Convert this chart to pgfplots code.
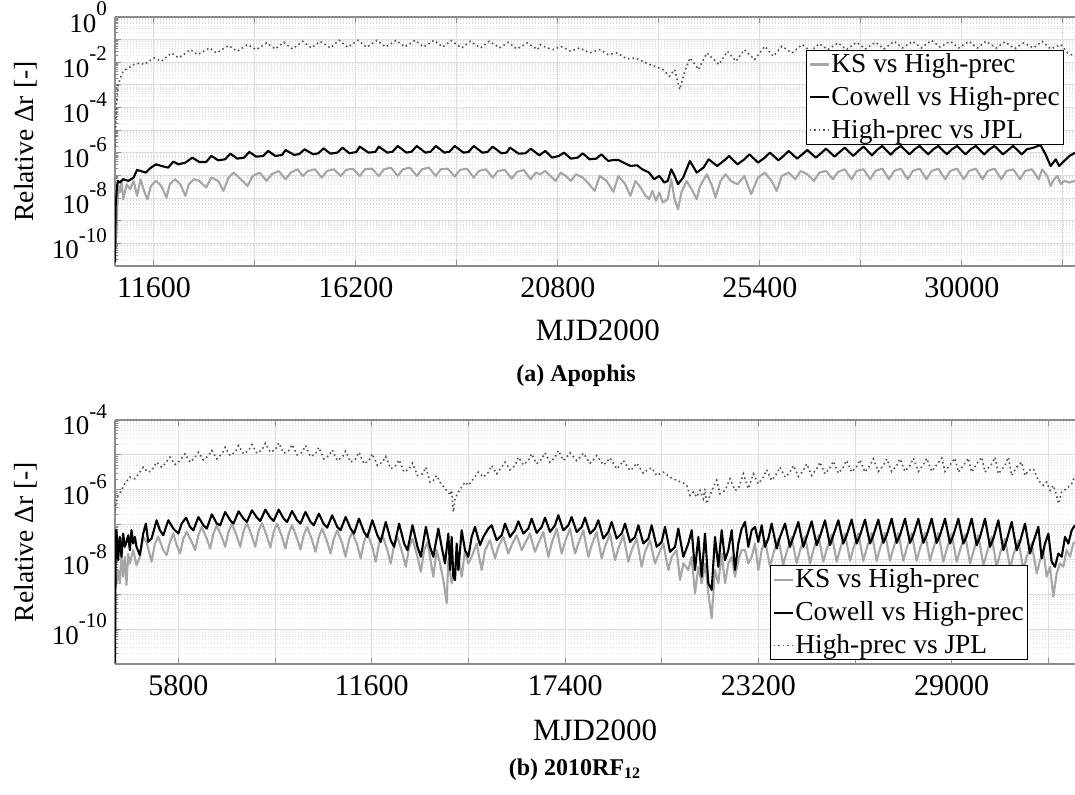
\documentclass[border=0pt]{standalone}
\usepackage{fontspec}
\setmainfont{Liberation Serif}
\usepackage{pgfplots}
\pgfplotsset{compat=1.18}
\definecolor{ksgray}{RGB}{166,166,166}
\definecolor{jplgray}{RGB}{85,85,85}
\definecolor{gridgray}{RGB}{222,222,222}
\definecolor{axgray}{RGB}{140,140,140}
\newcommand{\tp}[1]{10\raisebox{8.2pt}{\fontsize{10.5}{10.5}\selectfont #1}}
\tikzset{
  ksline/.style={draw=ksgray, line width=1.05pt, line join=round},
  cwline/.style={draw=black, line width=1.05pt, line join=round},
  jplline/.style={draw=jplgray, line width=0.8pt, dash pattern=on 0.8pt off 1.5pt},
}
\begin{document}
\begin{tikzpicture}
%%%%%%%%%%%%%%%%%%%%%%%%%%%%%%%%%%%%%%%%% (a) Apophis
\begin{axis}[at={(0,0)}, anchor=north west,
  scale only axis, width=480pt, height=124.5pt,
  ymode=log, scaled x ticks=false,
  axis x line*=box, axis y line*=left,
  axis line style={draw=axgray, line width=0.6pt},
  tick style={draw=axgray, line width=0.5pt},
  major tick length=3pt, minor tick length=1.6pt,
  grid=both,
  major grid style={draw=gridgray, line width=0.5pt},
  minor grid style={draw=gridgray, line width=0.5pt, dash pattern=on 0.6pt off 0.9pt},
  xticklabel style={font=\fontsize{15}{16}\selectfont, yshift=-2pt},
  yticklabel style={font=\fontsize{13.5}{14}\selectfont, xshift=-0.5pt},
  xlabel style={font=\fontsize{15.5}{16}\selectfont},
  ylabel style={font=\fontsize{13.8}{14}\selectfont},
  legend cell align=left,
  legend style={font=\fontsize{13.7}{14}\selectfont, draw=black, line width=0.5pt,
    inner xsep=1pt, inner ysep=0.6pt, nodes={inner sep=0.9pt}, row sep=3.6pt,
    at={(axis description cs:0.9885,0.8675)}, anchor=north east},
  legend image code/.code={\draw[#1] (0pt,0pt) -- (9.5pt,0pt);},
  xmin=10712, xmax=32580, ymin=1e-11, ymax=1,
  xtick={11600,13900,16200,18500,20800,23100,25400,27700,30000,32300},
  xticklabels={11600,{},16200,{},20800,{},25400,{},30000,{}},
  ytick={1e-11,1e-10,1e-9,1e-8,1e-7,1e-6,1e-5,1e-4,1e-3,1e-2,1e-1,1},
  yticklabels={{},\tp{-10},{},\tp{-8},{},\tp{-6},{},\tp{-4},{},\tp{-2},{},\tp{0}},
  minor ytick={2e-11,3e-11,4e-11,5e-11,6e-11,7e-11,8e-11,9e-11,
    2e-10,3e-10,4e-10,5e-10,6e-10,7e-10,8e-10,9e-10,
    2e-9,3e-9,4e-9,5e-9,6e-9,7e-9,8e-9,9e-9,
    2e-8,3e-8,4e-8,5e-8,6e-8,7e-8,8e-8,9e-8,
    2e-7,3e-7,4e-7,5e-7,6e-7,7e-7,8e-7,9e-7,
    2e-6,3e-6,4e-6,5e-6,6e-6,7e-6,8e-6,9e-6,
    2e-5,3e-5,4e-5,5e-5,6e-5,7e-5,8e-5,9e-5,
    2e-4,3e-4,4e-4,5e-4,6e-4,7e-4,8e-4,9e-4,
    2e-3,3e-3,4e-3,5e-3,6e-3,7e-3,8e-3,9e-3,
    2e-2,3e-2,4e-2,5e-2,6e-2,7e-2,8e-2,9e-2,
    2e-1,3e-1,4e-1,5e-1,6e-1,7e-1,8e-1,9e-1},
  xlabel={MJD2000},
  xlabel style={at={(axis description cs:0.503,-0.2972)}, anchor=base},
  ylabel={Relative Δr [-]},
  ylabel style={at={(axis description cs:-0.0927,0.5)}, anchor=center},
]
\addplot[ksline] coordinates {
(10727,5.61e-11) (10759,1.65e-9) (10783,3.46e-8) (10822,1.76e-8) (10861,5.74e-8) (10900,8.94e-9)
(10979,4.09e-8) (11058,2.47e-8) (11136,5.74e-8) (11215,1.25e-8) (11294,6.81e-8) (11372,2.08e-8)
(11451,8.94e-9) (11530,3.46e-8) (11648,5.74e-8) (11766,3.46e-8) (11884,1.06e-8) (11962,4.09e-8)
(12080,6.81e-8) (12198,4.09e-8) (12316,1.25e-8) (12395,4.09e-8) (12513,6.81e-8) (12631,5.74e-8)
(12788,2.92e-8) (12906,8.05e-8) (13063,5.74e-8) (13181,2.08e-8) (13299,8.05e-8) (13417,1.34e-7)
(13575,6.81e-8) (13732,3.46e-8) (13850,9.53e-8) (14007,1.34e-7) (14164,5.74e-8) (14282,1.13e-7)
(14440,1.58e-7) (14597,6.81e-8) (14715,1.34e-7) (14872,1.87e-7) (14990,9.53e-8) (15108,1.58e-7)
(15266,1.87e-7) (15423,8.05e-8) (15541,1.58e-7) (15698,1.87e-7) (15855,9.53e-8) (15973,1.75e-7)
(16131,2.00e-7) (16288,9.53e-8) (16406,1.87e-7) (16563,2.00e-7) (16721,9.53e-8) (16839,1.87e-7)
(16996,2.22e-7) (17153,9.53e-8) (17271,1.87e-7) (17429,2.22e-7) (17586,9.53e-8) (17704,1.87e-7)
(17861,2.22e-7) (18019,9.53e-8) (18136,1.87e-7) (18294,2.00e-7) (18451,8.91e-8) (18569,1.75e-7)
(18726,2.00e-7) (18884,8.05e-8) (19001,1.58e-7) (19159,1.87e-7) (19316,8.05e-8) (19434,1.58e-7)
(19591,1.75e-7) (19749,7.28e-8) (19867,1.43e-7) (20024,1.75e-7) (20181,6.81e-8) (20299,1.34e-7)
(20397,1.13e-7) (20513,1.58e-7) (20630,9.53e-8) (20746,5.74e-8) (20862,1.34e-7) (20978,9.53e-8)
(21095,5.74e-8) (21211,1.13e-7) (21366,8.05e-8) (21482,4.85e-8) (21637,2.08e-8) (21754,9.53e-8)
(21909,5.74e-8) (22064,1.88e-8) (22180,9.53e-8) (22335,4.09e-8) (22451,1.25e-8) (22568,5.74e-8)
(22684,2.92e-8) (22800,1.25e-8) (22878,8.94e-9) (22955,2.08e-8) (23033,7.55e-9) (23110,1.76e-8)
(23188,6.38e-9) (23304,8.94e-9) (23382,6.81e-8) (23459,8.94e-9) (23537,3.24e-9) (23614,1.76e-8)
(23730,5.74e-8) (23847,2.47e-8) (23963,8.94e-9) (24040,3.46e-8) (24195,1.13e-7) (24312,3.46e-8)
(24389,1.06e-8) (24506,5.74e-8) (24622,1.13e-7) (24738,5.74e-8) (24893,4.09e-8) (25048,9.53e-8)
(25203,1.49e-8) (25358,8.05e-8) (25513,1.34e-7) (25668,5.74e-8) (25785,2.08e-8) (25901,9.53e-8)
(26056,1.34e-7) (26211,6.81e-8) (26327,1.58e-7) (26482,1.13e-7) (26637,5.74e-8) (26754,1.34e-7)
(26909,1.58e-7) (27064,6.81e-8) (27180,1.43e-7) (27335,1.87e-7) (27490,6.81e-8) (27606,1.58e-7)
(27761,1.87e-7) (27916,6.81e-8) (28033,1.58e-7) (28188,2.00e-7) (28343,6.81e-8) (28459,1.58e-7)
(28614,2.00e-7) (28769,6.81e-8) (28886,1.58e-7) (29041,2.00e-7) (29196,6.81e-8) (29312,1.58e-7)
(29467,2.00e-7) (29622,6.81e-8) (29738,1.58e-7) (29893,2.00e-7) (30048,6.81e-8) (30165,1.58e-7)
(30320,2.00e-7) (30475,6.81e-8) (30591,1.58e-7) (30746,2.00e-7) (30901,6.81e-8) (31017,1.58e-7)
(31172,1.87e-7) (31327,6.81e-8) (31443,1.58e-7) (31598,1.87e-7) (31754,6.81e-8) (31831,1.87e-7)
(31948,9.53e-8) (32025,3.46e-8) (32103,6.81e-8) (32180,9.53e-8) (32258,4.09e-8) (32335,5.74e-8)
(32451,4.85e-8) (32580,5.74e-8)
};
\addlegendentry{KS vs High-prec}
\addplot[cwline] coordinates {
(10712,1.45e-11) (10727,4.55e-9) (10759,3.46e-8) (10783,5.74e-8) (10822,4.85e-8) (10900,6.81e-8)
(11018,5.74e-8) (11136,8.05e-8) (11215,1.75e-7) (11294,1.58e-7) (11412,1.34e-7) (11530,2.22e-7)
(11648,3.11e-7) (11766,2.63e-7) (11923,2.22e-7) (12041,4.08e-7) (12159,3.11e-7) (12316,3.69e-7)
(12473,6.12e-7) (12631,3.94e-7) (12788,3.94e-7) (12906,7.26e-7) (13063,4.67e-7) (13221,5.17e-7)
(13339,9.19e-7) (13496,5.53e-7) (13653,6.12e-7) (13771,1.09e-6) (13928,6.78e-7) (14086,7.26e-7)
(14204,1.21e-6) (14361,7.26e-7) (14518,8.03e-7) (14597,1.33e-6) (14794,8.03e-7) (14912,8.89e-7)
(15030,1.43e-6) (15226,8.59e-7) (15344,9.51e-7) (15462,1.58e-6) (15619,9.19e-7) (15777,1.02e-6)
(15895,1.69e-6) (16052,9.51e-7) (16209,1.09e-6) (16288,1.87e-6) (16485,1.02e-6) (16642,1.09e-6)
(16721,1.87e-6) (16917,1.02e-6) (17035,1.12e-6) (17153,2.00e-6) (17350,1.02e-6) (17468,1.12e-6)
(17586,2.00e-6) (17783,1.02e-6) (17901,1.12e-6) (18019,2.00e-6) (18215,1.02e-6) (18333,1.12e-6)
(18451,2.00e-6) (18648,1.02e-6) (18766,1.09e-6) (18884,2.00e-6) (19080,1.02e-6) (19198,1.09e-6)
(19316,1.87e-6) (19513,9.51e-7) (19631,1.02e-6) (19709,1.69e-6) (19906,9.19e-7) (20063,9.51e-7)
(20181,1.52e-6) (20378,7.76e-7)
(20513,1.21e-6) (20668,6.12e-7) (20823,7.26e-7) (20940,1.02e-6) (21095,5.53e-7) (21250,6.12e-7)
(21366,9.51e-7) (21521,5.17e-7) (21676,5.53e-7) (21792,8.59e-7) (21947,4.37e-7) (22064,4.83e-7)
(22180,4.83e-7) (22296,3.69e-7) (22451,2.63e-7) (22606,2.81e-7) (22723,1.87e-7) (22878,1.34e-7)
(22994,6.81e-8) (23110,9.53e-8) (23226,4.85e-8) (23304,5.74e-8) (23382,1.87e-7) (23459,9.53e-8)
(23537,4.09e-8) (23653,8.05e-8) (23808,4.37e-7) (23963,1.34e-7) (24118,2.22e-7) (24234,5.17e-7)
(24428,2.63e-7) (24622,5.17e-7) (24699,7.26e-7) (24893,3.11e-7) (25048,5.17e-7) (25164,8.59e-7)
(25358,3.69e-7) (25513,6.12e-7) (25630,1.02e-6) (25823,4.67e-7) (25940,7.26e-7) (26056,1.21e-6)
(26250,5.53e-7) (26366,8.59e-7) (26482,1.33e-6) (26676,6.12e-7) (26792,9.51e-7) (26909,1.52e-6)
(27103,6.78e-7) (27219,1.09e-6) (27335,1.69e-6) (27529,7.26e-7) (27645,1.21e-6) (27761,1.87e-6)
(27955,7.76e-7) (28071,1.33e-6) (28188,2.00e-6) (28382,8.30e-7) (28498,1.43e-6) (28614,2.00e-6)
(28808,8.59e-7) (28924,1.43e-6) (29041,2.00e-6) (29234,8.59e-7) (29351,1.43e-6) (29467,2.00e-6)
(29661,8.59e-7) (29777,1.43e-6) (29893,2.00e-6) (30087,8.59e-7) (30203,1.43e-6) (30320,2.00e-6)
(30513,8.59e-7) (30630,1.43e-6) (30746,2.00e-6) (30940,8.59e-7) (31056,1.33e-6) (31172,2.00e-6)
(31366,8.59e-7) (31482,1.43e-6) (31637,1.69e-6) (31792,2.21e-6) (31909,8.59e-7) (32025,2.63e-7)
(32141,5.17e-7) (32219,2.63e-7) (32335,4.37e-7) (32451,7.26e-7) (32580,1.0e-6)
};
\addlegendentry{Cowell vs High-prec}
\addplot[jplline] coordinates {
(10712,2e-6) (10719,3.94e-6) (10743,1.16e-4) (10783,8.79e-4) (10822,1.73e-3) (10900,4.03e-3)
(11018,5.65e-3) (11136,7.92e-3) (11294,9.38e-3) (11372,7.92e-3) (11608,1.56e-2) (11766,1.11e-2)
(12002,2.58e-2) (12159,1.56e-2) (12434,3.62e-2) (12591,2.18e-2) (12867,4.30e-2) (13024,2.58e-2)
(13299,5.44e-2) (13496,3.06e-2) (13732,6.03e-2) (13928,3.62e-2) (14164,7.13e-2) (14361,3.88e-2)
(14558,7.63e-2) (14754,3.88e-2) (14990,8.44e-2) (15187,4.30e-2) (15383,8.44e-2) (15619,4.30e-2)
(15816,9.34e-2) (16013,4.59e-2) (16249,9.34e-2) (16445,4.59e-2) (16681,9.34e-2) (16878,4.75e-2)
(17114,9.34e-2) (17311,4.75e-2) (17546,9.34e-2) (17743,4.75e-2) (17979,9.34e-2) (18176,4.75e-2)
(18372,9.04e-2) (18608,4.30e-2) (18805,8.44e-2) (19041,4.30e-2) (19237,8.44e-2) (19473,4.30e-2)
(19670,7.63e-2) (19867,3.88e-2) (20103,7.13e-2) (20339,3.62e-2)
(20397,6.03e-2) (20552,4.30e-2) (20707,3.62e-2) (20862,5.08e-2) (21095,3.06e-2) (21288,4.30e-2)
(21521,2.58e-2) (21754,3.62e-2) (21947,2.18e-2) (22141,2.58e-2) (22374,1.41e-2) (22568,1.56e-2)
(22800,9.38e-3) (22994,6.68e-3) (23188,4.77e-3) (23343,2.43e-3) (23459,4.77e-3) (23575,6.26e-4)
(23692,4.03e-3) (23808,1.56e-2) (23924,7.92e-3) (24002,4.77e-3) (24195,2.58e-2) (24312,1.56e-2)
(24467,7.92e-3) (24661,3.06e-2) (24855,1.11e-2) (25048,3.62e-2) (25281,1.32e-2) (25513,5.08e-2)
(25707,1.85e-2) (25901,5.08e-2) (26133,2.58e-2) (26366,6.03e-2) (26560,3.06e-2) (26754,6.67e-2)
(26947,3.62e-2) (27180,7.13e-2) (27374,3.62e-2) (27606,7.63e-2) (27800,3.88e-2) (28033,7.63e-2)
(28227,3.88e-2) (28459,8.44e-2) (28653,4.30e-2) (28886,8.44e-2) (29079,4.30e-2) (29312,9.34e-2)
(29506,4.75e-2) (29738,8.44e-2) (29932,4.30e-2) (30165,8.44e-2) (30358,4.30e-2) (30552,8.44e-2)
(30785,4.30e-2) (30979,7.89e-2) (31211,4.01e-2) (31405,7.13e-2) (31637,4.30e-2) (31831,8.44e-2)
(32025,3.88e-2) (32258,6.03e-2) (32413,2.58e-2) (32580,1.85e-2)
};
\addlegendentry{High-prec vs JPL}
\end{axis}
%%%%%%%%%%%%%%%%%%%%%%%%%%%%%%%%%%%%%%%%% (b) 2010RF12
\begin{axis}[at={(0,-201.5pt)}, anchor=north west,
  scale only axis, width=480pt, height=122pt,
  ymode=log, scaled x ticks=false,
  axis x line*=box, axis y line*=left,
  axis line style={draw=axgray, line width=0.6pt},
  tick style={draw=axgray, line width=0.5pt},
  major tick length=3pt, minor tick length=1.6pt,
  grid=both,
  major grid style={draw=gridgray, line width=0.5pt},
  minor grid style={draw=gridgray, line width=0.5pt, dash pattern=on 0.6pt off 0.9pt},
  xticklabel style={font=\fontsize{15}{16}\selectfont, yshift=-2pt},
  yticklabel style={font=\fontsize{13.5}{14}\selectfont, xshift=-0.5pt},
  xlabel style={font=\fontsize{15.5}{16}\selectfont},
  ylabel style={font=\fontsize{13.8}{14}\selectfont},
  legend cell align=left,
  legend style={font=\fontsize{13.7}{14}\selectfont, draw=black, line width=0.5pt,
    inner xsep=1pt, inner ysep=0.6pt, nodes={inner sep=0.9pt}, row sep=3.6pt,
    at={(axis description cs:0.951,0.0164)}, anchor=south east},
  legend image code/.code={\draw[#1] (0pt,0pt) -- (9.5pt,0pt);},
  xmin=3900, xmax=32700, ymin=1e-11, ymax=1e-4,
  xtick={5800,8700,11600,14500,17400,20300,23200,26100,29000,31900},
  xticklabels={5800,{},11600,{},17400,{},23200,{},29000,{}},
  ytick={1e-11,1e-10,1e-9,1e-8,1e-7,1e-6,1e-5,1e-4},
  yticklabels={{},\tp{-10},{},\tp{-8},{},\tp{-6},{},\tp{-4}},
  minor ytick={2e-11,3e-11,4e-11,5e-11,6e-11,7e-11,8e-11,9e-11,
    2e-10,3e-10,4e-10,5e-10,6e-10,7e-10,8e-10,9e-10,
    2e-9,3e-9,4e-9,5e-9,6e-9,7e-9,8e-9,9e-9,
    2e-8,3e-8,4e-8,5e-8,6e-8,7e-8,8e-8,9e-8,
    2e-7,3e-7,4e-7,5e-7,6e-7,7e-7,8e-7,9e-7,
    2e-6,3e-6,4e-6,5e-6,6e-6,7e-6,8e-6,9e-6,
    2e-5,3e-5,4e-5,5e-5,6e-5,7e-5,8e-5,9e-5},
  xlabel={MJD2000},
  xlabel style={at={(axis description cs:0.5,-0.3115)}, anchor=base},
  ylabel={Relative Δr [-]},
  ylabel style={at={(axis description cs:-0.0927,0.5)}, anchor=center},
]
\addplot[ksline] coordinates {
(3944,2.06e-9) (3994,4.95e-9) (4044,2.06e-9) (4094,1.48e-8) (4144,3.19e-9) (4195,1.19e-8)
(4245,1.85e-9) (4295,1.48e-8) (4345,7.67e-9) (4445,1.85e-8) (4546,6.88e-9) (4646,1.19e-8)
(4747,4.43e-8) (4847,3.19e-8) (4997,8.57e-9) (5098,2.86e-8) (5198,4.43e-8) (5349,1.85e-8)
(5449,1.33e-8) (5549,3.19e-8) (5650,5.52e-8) (5750,2.56e-8) (5850,1.48e-8) (5951,3.97e-8)
(6051,6.16e-8) (6202,3.19e-8) (6302,1.85e-8) (6402,4.95e-8) (6503,8.57e-8) (6653,3.97e-8)
(6754,2.06e-8) (6854,5.52e-8) (6954,9.55e-8) (7105,4.43e-8) (7205,2.30e-8) (7305,6.16e-8)
(7406,1.07e-7) (7556,4.63e-8) (7657,2.30e-8) (7757,6.58e-8) (7857,1.11e-7) (8008,4.63e-8)
(8108,2.30e-8) (8208,6.58e-8) (8309,1.11e-7) (8459,4.63e-8) (8560,2.20e-8) (8660,6.16e-8)
(8761,1.07e-7) (8911,4.43e-8) (9011,2.06e-8) (9112,5.52e-8) (9212,9.55e-8) (9363,3.97e-8)
(9463,1.93e-8) (9563,4.95e-8) (9664,8.57e-8) (9814,3.56e-8) (9915,1.65e-8) (10015,4.43e-8)
(10115,7.67e-8) (10266,3.19e-8) (10366,1.48e-8) (10466,3.97e-8) (10567,6.88e-8) (10717,2.86e-8)
(10818,1.19e-8) (10918,3.56e-8) (11018,6.16e-8) (11169,2.56e-8) (11269,1.07e-8) (11370,3.19e-8)
(11470,5.52e-8) (11620,2.30e-8) (11721,8.57e-9) (11821,2.86e-8) (11922,4.95e-8) (12072,1.85e-8)
(12172,7.67e-9) (12273,2.56e-8) (12373,4.43e-8) (12524,1.48e-8) (12624,6.16e-9) (12724,2.30e-8)
(12825,3.97e-8) (12975,1.19e-8) (13076,4.43e-9) (13176,1.85e-8) (13276,3.19e-8)
(13350,1.19e-8) (13450,3.19e-9) (13550,1.85e-8) (13650,7.67e-9) (13750,2.56e-9) (13850,5.52e-10)
(13900,9.55e-9) (14000,2.06e-9) (14100,6.16e-9) (14200,1.19e-8) (14300,3.19e-9) (14400,1.85e-8)
(14500,7.67e-9) (14600,1.19e-8) (14750,2.86e-8) (14900,4.95e-9) (15000,1.85e-8) (15150,3.56e-8)
(15300,1.07e-8) (15400,2.30e-8) (15550,4.43e-8) (15700,1.48e-8) (15800,2.56e-8) (15950,4.95e-8)
(16100,1.85e-8) (16200,2.86e-8) (16350,5.52e-8) (16500,1.65e-8) (16600,2.86e-8) (16750,6.16e-8)
(16900,1.19e-8) (17000,2.86e-8) (17150,7.67e-8) (17300,1.48e-8) (17400,3.19e-8) (17550,7.67e-8)
(17700,1.48e-8) (17800,2.86e-8) (17950,6.88e-8) (18100,1.19e-8) (18200,2.56e-8) (18350,6.16e-8)
(18500,1.07e-8) (18600,2.30e-8) (18750,5.52e-8) (18900,9.55e-9) (19000,2.06e-8) (19150,4.95e-8)
(19300,8.57e-9) (19400,1.85e-8) (19550,3.97e-8) (19700,6.16e-9) (19800,1.65e-8) (19950,3.56e-8)
(20100,7.67e-9) (20200,1.33e-8) (20350,2.86e-8) (20500,4.95e-9) (20600,1.19e-8) (20750,1.85e-8)
(20850,2.56e-9) (20950,7.67e-9) (21100,4.95e-9) (21200,1.19e-8) (21300,1.07e-9) (21400,6.16e-9)
(21500,2.06e-9) (21600,7.67e-9) (21700,1.07e-9) (21800,2.06e-10) (21900,4.95e-9) (22000,2.06e-9)
(22100,1.48e-8) (22200,2.06e-9) (22300,7.67e-9) (22400,1.19e-8) (22500,3.19e-9) (22600,9.55e-9)
(22700,1.85e-8)
(22800,1.85e-8) (22900,7.67e-9) (23000,1.19e-8) (23100,2.86e-8) (23200,4.95e-9) (23300,1.85e-8)
(23400,3.56e-8) (23550,6.16e-9) (23650,1.48e-8) (23800,3.97e-8) (23950,6.88e-9) (24050,1.65e-8)
(24200,4.43e-8) (24350,7.67e-9) (24450,1.85e-8) (24600,4.63e-8) (24750,7.67e-9) (24850,1.85e-8)
(25000,4.95e-8) (25150,8.57e-9) (25250,1.93e-8) (25400,5.28e-8) (25550,8.57e-9) (25650,1.93e-8)
(25800,5.52e-8) (25950,9.14e-9) (26050,2.06e-8) (26200,5.52e-8) (26350,9.14e-9) (26450,2.06e-8)
(26600,5.77e-8) (26750,9.14e-9) (26850,2.06e-8) (27000,5.77e-8) (27150,9.14e-9) (27250,2.06e-8)
(27400,5.77e-8) (27550,9.14e-9) (27650,2.06e-8) (27800,5.77e-8) (27950,9.14e-9) (28050,2.06e-8)
(28200,5.77e-8) (28350,9.14e-9) (28450,2.06e-8) (28600,5.77e-8) (28750,8.57e-9) (28850,1.93e-8)
(29000,5.52e-8) (29150,8.57e-9) (29250,1.85e-8) (29400,5.28e-8) (29550,7.67e-9) (29650,1.65e-8)
(29800,4.95e-8) (29950,6.88e-9) (30050,1.48e-8) (30200,4.43e-8) (30350,6.16e-9) (30450,1.48e-8)
(30600,3.97e-8) (30750,5.52e-9) (30850,1.33e-8) (31000,3.56e-8) (31150,4.95e-9) (31250,1.19e-8)
(31400,2.86e-8) (31550,3.97e-9) (31650,9.55e-9) (31750,1.85e-8) (31850,3.19e-9) (31950,6.16e-9)
(32050,8.57e-10) (32150,3.97e-9) (32250,7.67e-9) (32350,6.16e-9) (32450,1.85e-8) (32550,1.19e-8)
(32650,2.86e-8) (32700,3.19e-8)
};
\addlegendentry{KS vs High-prec}
\addplot[cwline] coordinates {
(3900,1.07e-11) (3924,6.88e-8) (3944,6.88e-8) (3994,9.55e-9) (4044,4.43e-8) (4094,1.19e-8)
(4144,5.52e-8) (4195,2.30e-8) (4245,3.19e-8) (4295,4.95e-8) (4345,1.85e-8) (4395,6.88e-8)
(4445,2.86e-8) (4496,4.43e-8) (4546,2.30e-8) (4646,1.33e-8) (4747,5.52e-8) (4827,1.07e-7)
(4897,3.19e-8) (4997,3.97e-8) (5148,1.33e-7) (5248,6.88e-8) (5349,4.95e-8) (5499,1.33e-7)
(5650,7.67e-8) (5800,5.52e-8) (5901,1.07e-7) (6031,1.58e-7) (6151,8.57e-8) (6252,6.88e-8)
(6402,1.65e-7) (6553,9.55e-8) (6653,7.67e-8) (6804,1.97e-7) (6954,1.07e-7) (7055,9.55e-8)
(7205,2.30e-7) (7356,1.33e-7) (7456,1.07e-7) (7606,2.40e-7) (7757,1.48e-7) (7857,1.19e-7)
(8008,2.56e-7) (8158,1.58e-7) (8259,1.27e-7) (8409,2.68e-7) (8560,1.58e-7) (8660,1.27e-7)
(8811,2.68e-7) (8961,1.48e-7) (9062,1.19e-7) (9212,2.45e-7) (9363,1.33e-7) (9463,1.07e-7)
(9613,2.30e-7) (9764,1.19e-7) (9864,9.55e-8) (10015,2.06e-7) (10165,1.02e-7) (10266,8.20e-8)
(10416,1.85e-7) (10567,8.57e-8) (10667,6.88e-8) (10818,1.65e-7) (10968,7.67e-8) (11069,5.52e-8)
(11219,1.48e-7) (11370,6.16e-8) (11470,4.43e-8) (11620,1.33e-7) (11771,4.95e-8) (11871,3.19e-8)
(12022,1.19e-7) (12172,3.56e-8) (12273,2.30e-8) (12423,1.07e-7) (12574,2.86e-8) (12674,1.85e-8)
(12825,9.55e-8) (12975,2.30e-8) (13076,1.19e-8) (13226,8.57e-8)
(13350,2.30e-8) (13450,1.19e-8) (13600,7.67e-8) (13700,2.30e-8) (13800,7.67e-9) (13900,5.52e-8)
(13950,4.95e-9) (14000,4.43e-8) (14050,3.19e-9) (14100,2.56e-9) (14150,2.86e-8) (14200,4.95e-9)
(14300,6.88e-8) (14400,1.85e-8) (14500,1.19e-8) (14600,4.43e-8) (14700,8.57e-8) (14850,2.56e-8)
(14950,4.43e-8) (15100,7.67e-8) (15200,9.55e-8) (15350,3.56e-8) (15500,4.95e-8) (15600,1.07e-7)
(15750,4.43e-8) (15900,6.88e-8) (16000,1.24e-7) (16150,5.52e-8) (16300,7.67e-8) (16400,1.48e-7)
(16550,5.77e-8) (16700,8.57e-8) (16800,1.58e-7) (16950,6.16e-8) (17100,9.55e-8) (17200,1.85e-7)
(17350,6.88e-8) (17500,9.55e-8) (17600,1.65e-7) (17750,6.16e-8) (17900,8.57e-8) (18000,1.58e-7)
(18150,5.52e-8) (18300,7.67e-8) (18400,1.33e-7) (18550,3.97e-8) (18700,6.16e-8) (18800,1.19e-7)
(18950,3.97e-8) (19100,5.52e-8) (19200,1.07e-7) (19350,3.19e-8) (19500,4.43e-8) (19600,9.55e-8)
(19750,2.86e-8) (19900,3.97e-8) (20000,9.55e-8) (20150,2.30e-8) (20300,3.19e-8) (20400,8.57e-8)
(20550,1.65e-8) (20700,2.30e-8) (20800,7.67e-8) (20950,1.19e-8) (21100,2.86e-8) (21200,6.88e-8)
(21300,4.95e-9) (21400,4.43e-8) (21500,3.19e-9) (21600,5.52e-8) (21700,2.06e-9) (21800,1.33e-9)
(21900,4.43e-8) (22000,6.16e-9) (22100,6.88e-8) (22200,9.55e-9) (22300,1.85e-8) (22400,6.88e-8)
(22500,4.95e-9) (22600,2.86e-8) (22700,7.67e-8)
(22800,1.19e-7) (22900,2.30e-8) (23000,6.88e-8) (23100,8.57e-8) (23200,3.19e-8) (23300,9.55e-8)
(23400,2.30e-8) (23500,3.97e-8) (23600,1.07e-7) (23750,2.06e-8) (23850,4.43e-8) (24000,1.07e-7)
(24150,2.30e-8) (24250,4.43e-8) (24400,1.19e-7) (24550,2.30e-8) (24650,4.43e-8) (24800,1.24e-7)
(24950,2.56e-8) (25050,4.63e-8) (25200,1.33e-7) (25350,2.56e-8) (25450,4.95e-8) (25600,1.33e-7)
(25750,2.86e-8) (25850,4.95e-8) (26000,1.39e-7) (26150,2.86e-8) (26250,4.95e-8) (26400,1.39e-7)
(26550,2.86e-8) (26650,4.95e-8) (26800,1.39e-7) (26950,2.99e-8) (27050,4.95e-8) (27200,1.48e-7)
(27350,2.99e-8) (27450,4.95e-8) (27600,1.48e-7) (27750,2.99e-8) (27850,4.95e-8) (28000,1.48e-7)
(28150,2.99e-8) (28250,4.95e-8) (28400,1.48e-7) (28550,2.99e-8) (28650,4.95e-8) (28800,1.48e-7)
(28950,2.86e-8) (29050,4.95e-8) (29200,1.48e-7) (29350,2.86e-8) (29450,4.63e-8) (29600,1.48e-7)
(29750,2.56e-8) (29850,4.43e-8) (30000,1.48e-7) (30150,2.30e-8) (30250,3.97e-8) (30400,1.33e-7)
(30550,1.85e-8) (30650,3.56e-8) (30800,1.19e-7) (30950,1.85e-8) (31050,3.19e-8) (31200,1.07e-7)
(31350,1.48e-8) (31450,3.19e-8) (31600,8.57e-8) (31700,1.07e-8) (31800,2.86e-8) (31900,5.52e-8)
(32000,8.57e-9) (32100,6.16e-9) (32200,1.48e-8) (32300,1.19e-8) (32400,4.43e-8) (32500,2.86e-8)
(32600,6.88e-8) (32700,9.55e-8)
};
\addlegendentry{Cowell vs High-prec}
\addplot[jplline] coordinates {
(3900,2.56e-7) (3944,4.95e-7) (3994,6.88e-7) (4094,9.55e-7) (4195,1.48e-6) (4345,2.30e-6)
(4496,2.06e-6) (4646,3.19e-6) (4747,4.43e-6) (4897,3.19e-6) (4997,3.56e-6) (5148,6.16e-6)
(5298,4.43e-6) (5399,5.52e-6) (5549,8.57e-6) (5700,5.28e-6) (5850,6.88e-6) (6001,1.07e-5)
(6151,6.16e-6) (6302,8.57e-6) (6402,1.19e-5) (6553,7.18e-6) (6703,9.55e-6) (6804,1.33e-5)
(6954,7.67e-6) (7105,1.07e-5) (7205,1.65e-5) (7356,9.55e-6) (7506,1.19e-5) (7606,1.85e-5)
(7757,1.07e-5) (7908,1.33e-5) (8008,1.97e-5) (8158,1.11e-5) (8309,1.39e-5) (8409,2.15e-5)
(8560,1.19e-5) (8710,1.39e-5) (8811,2.20e-5) (8961,1.11e-5) (9112,1.33e-5) (9212,1.97e-5)
(9363,9.98e-6) (9513,1.19e-5) (9613,1.85e-5) (9764,8.95e-6) (9915,1.07e-5) (10015,1.65e-5)
(10165,7.67e-6) (10316,9.55e-6) (10416,1.39e-5) (10567,6.88e-6) (10717,8.57e-6) (10818,1.27e-5)
(10968,6.16e-6) (11119,7.67e-6) (11219,1.19e-5) (11370,5.52e-6) (11520,6.88e-6) (11620,1.07e-5)
(11771,4.95e-6) (11922,6.16e-6) (12022,8.95e-6) (12172,3.97e-6) (12323,4.95e-6) (12423,7.18e-6)
(12574,3.19e-6) (12724,3.97e-6) (12825,5.77e-6) (12975,2.56e-6) (13126,2.86e-6) (13226,4.43e-6)
(13350,1.65e-6) (13450,1.85e-6) (13550,2.56e-6) (13650,1.65e-6) (13800,1.07e-6) (13900,8.57e-7)
(13950,6.88e-7) (14000,9.55e-7) (14050,2.30e-7) (14100,5.52e-7) (14200,8.57e-7) (14300,1.19e-6)
(14400,1.65e-6) (14500,1.33e-6) (14650,2.06e-6) (14800,3.19e-6) (14950,2.30e-6) (15100,3.19e-6)
(15200,4.95e-6) (15350,2.86e-6) (15500,4.43e-6) (15600,6.16e-6) (15750,3.72e-6) (15900,4.95e-6)
(16000,8.57e-6) (16150,5.17e-6) (16300,6.88e-6) (16400,1.07e-5) (16550,5.52e-6) (16700,7.67e-6)
(16800,1.14e-5) (16950,6.16e-6) (17100,8.57e-6) (17200,1.33e-5) (17350,6.88e-6) (17450,8.57e-6)
(17550,1.14e-5) (17750,6.88e-6) (17850,8.57e-6) (17950,1.11e-5) (18150,5.77e-6) (18250,7.18e-6)
(18350,9.55e-6) (18550,5.17e-6) (18650,6.16e-6) (18750,8.20e-6) (18950,3.97e-6) (19050,4.95e-6)
(19150,6.88e-6) (19350,3.56e-6) (19450,4.25e-6) (19550,5.77e-6) (19750,2.99e-6) (19850,3.56e-6)
(20000,4.25e-6) (20150,2.56e-6) (20350,3.19e-6) (20550,2.30e-6) (20750,1.85e-6) (20950,1.55e-6)
(21050,1.33e-6) (21150,6.88e-7) (21250,8.57e-7) (21350,6.16e-7) (21450,9.55e-7) (21550,5.52e-7)
(21600,1.07e-6) (21650,3.97e-7) (21750,6.88e-7) (21850,1.19e-6) (21950,1.85e-6) (22050,7.67e-7)
(22200,9.55e-7) (22350,2.06e-6) (22500,9.55e-7) (22600,1.07e-6) (22750,2.86e-6)
(22900,1.07e-6) (23050,2.86e-6) (23200,1.48e-6) (23350,2.30e-6) (23450,3.72e-6) (23600,1.85e-6)
(23750,2.86e-6) (23850,4.43e-6) (24000,2.30e-6) (24150,3.19e-6) (24250,4.95e-6) (24400,2.40e-6)
(24550,3.56e-6) (24650,5.52e-6) (24800,2.56e-6) (24950,3.97e-6) (25050,6.16e-6) (25200,2.86e-6)
(25350,4.25e-6) (25450,6.58e-6) (25600,2.99e-6) (25750,4.43e-6) (25850,6.88e-6) (26000,3.19e-6)
(26150,4.63e-6) (26250,7.18e-6) (26400,3.19e-6) (26550,4.95e-6) (26650,7.67e-6) (26800,3.34e-6)
(26950,4.95e-6) (27050,7.67e-6) (27200,3.34e-6) (27350,4.95e-6) (27450,7.67e-6) (27600,3.34e-6)
(27750,4.95e-6) (27850,8.02e-6) (28000,3.34e-6) (28150,5.17e-6) (28250,8.02e-6) (28400,3.34e-6)
(28550,5.17e-6) (28700,8.02e-6) (28800,3.34e-6) (28950,5.17e-6) (29100,8.02e-6) (29200,3.19e-6)
(29350,4.95e-6) (29500,8.02e-6) (29600,3.19e-6) (29750,5.52e-6) (29900,8.57e-6) (30000,3.19e-6)
(30200,5.52e-6) (30300,8.57e-6) (30400,2.86e-6) (30600,4.95e-6) (30700,8.57e-6) (30800,2.56e-6)
(30950,4.43e-6) (31100,6.16e-6) (31200,2.56e-6) (31300,3.56e-6) (31450,3.97e-6) (31600,1.85e-6)
(31750,1.33e-6) (31850,1.65e-6) (31950,9.55e-7) (32050,1.33e-6) (32150,6.88e-7) (32200,3.97e-7)
(32300,8.57e-7) (32450,1.07e-6) (32600,1.48e-6) (32700,2.56e-6)
};
\addlegendentry{High-prec vs JPL}
\end{axis}
\node[anchor=base, font=\bfseries\fontsize{12}{12}\selectfont] at (230.5pt,-182.35pt) {(a) Apophis};
\node[anchor=base, font=\bfseries\fontsize{12}{12}\selectfont] at (230pt,-379pt) {(b) 2010RF\textsubscript{12}};
\pgfresetboundingbox
\path[use as bounding box] (-57.5pt,8.5pt) rectangle (480pt,-389pt);
\end{tikzpicture}
\end{document}
